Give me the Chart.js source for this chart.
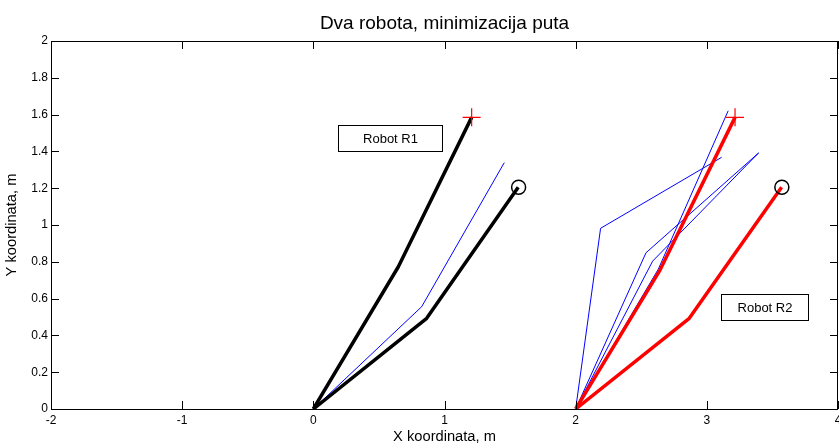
<!DOCTYPE html>
<html>
<head>
<meta charset="utf-8">
<script src="https://cdn.jsdelivr.net/npm/chart.js@4.4.1/dist/chart.umd.min.js"></script>
<style>
  html, body { margin: 0; padding: 0; background: #fff; }
  canvas { display: block; }
</style>
</head>
<body>
<canvas id="myChart" width="839" height="443"></canvas>
<script>
// tick labels
var xTicks = [-2, -1, 0, 1, 2, 3, 4];
var yTicks = [0, 0.2, 0.4, 0.6, 0.8, 1, 1.2, 1.4, 1.6, 1.8, 2];

// robot R1 (base at 0,0): two final arm poses and one trial pose
var r1ArmA = [{x: 0, y: 0}, {x: 0.648, y: 0.773}, {x: 1.207, y: 1.585}];
var r1ArmB = [{x: 0, y: 0}, {x: 0.864, y: 0.493}, {x: 1.562, y: 1.205}];
var r1Trial = [{x: 0, y: 0}, {x: 0.826, y: 0.556}, {x: 1.456, y: 1.339}];

// robot R2 (base at 2,0)
var r2ArmA = [{x: 2, y: 0}, {x: 2.643, y: 0.755}, {x: 3.215, y: 1.585}];
var r2ArmB = [{x: 2, y: 0}, {x: 2.866, y: 0.493}, {x: 3.570, y: 1.205}];
var r2TrialA = [{x: 2, y: 0}, {x: 2.190, y: 0.982}, {x: 3.113, y: 1.368}];
var r2TrialB = [{x: 2, y: 0}, {x: 2.536, y: 0.849}, {x: 3.397, y: 1.393}];
var r2TrialC = [{x: 2, y: 0}, {x: 2.587, y: 0.804}, {x: 3.392, y: 1.390}];
var r2TrialD = [{x: 2, y: 0}, {x: 2.630, y: 0.760}, {x: 3.163, y: 1.621}];

// markers
var goalPoints = [{x: 1.207, y: 1.585}, {x: 3.215, y: 1.585}];
var startPoints = [{x: 1.565, y: 1.205}, {x: 3.572, y: 1.205}];

// text boxes (data coordinates of box corners)
var notes = [
    {text: 'Robot R1', x1: 0.191, x2: 0.979, y1: 1.543, y2: 1.402},
    {text: 'Robot R2', x1: 3.105, x2: 3.773, y1: 0.625, y2: 0.484}
];

var titleText = 'Dva robota, minimizacija puta';
var xTitle = 'X koordinata, m';
var yTitle = 'Y koordinata, m';

var FONT = '"Liberation Sans", Arial, Helvetica, sans-serif';

function arm(points, color, width) {
    return {
        data: points,
        showLine: true,
        borderColor: color,
        borderWidth: width,
        borderJoinStyle: 'round',
        pointRadius: 0,
        pointHoverRadius: 0,
        tension: 0
    };
}

// frame, inward ticks, labels and text boxes, MATLAB style
var framePlugin = {
    id: 'frame',
    afterDatasetsDraw: function(chart) {
        var ctx = chart.ctx;
        var a = chart.chartArea;
        var xs = chart.scales.x, ys = chart.scales.y;
        var len = 8;
        ctx.save();
        ctx.strokeStyle = '#000';
        ctx.lineWidth = 1;
        ctx.beginPath();
        xTicks.forEach(function(v) {
            var px = Math.round(xs.getPixelForValue(v)) + 0.5;
            ctx.moveTo(px, a.bottom); ctx.lineTo(px, a.bottom - len);
            ctx.moveTo(px, a.top); ctx.lineTo(px, a.top + len);
        });
        yTicks.forEach(function(v) {
            var py = Math.round(ys.getPixelForValue(v)) + 0.5;
            ctx.moveTo(a.left, py); ctx.lineTo(a.left + len, py);
            ctx.moveTo(a.right, py); ctx.lineTo(a.right - len, py);
        });
        ctx.stroke();
        ctx.strokeRect(a.left + 0.5, a.top + 0.5, a.right - a.left - 1, a.bottom - a.top);

        // tick labels
        ctx.fillStyle = '#000';
        ctx.font = '12px ' + FONT;
        ctx.textAlign = 'center';
        ctx.textBaseline = 'middle';
        xTicks.forEach(function(v) {
            ctx.fillText(String(v), xs.getPixelForValue(v), a.bottom + 12);
        });
        ctx.textAlign = 'right';
        yTicks.forEach(function(v) {
            ctx.fillText(String(v), a.left - 3, ys.getPixelForValue(v));
        });

        // titles
        var cx = (a.left + a.right) / 2;
        ctx.textAlign = 'center';
        ctx.font = '19px ' + FONT;
        ctx.fillText(titleText, cx, 24);
        ctx.font = '14.7px ' + FONT;
        ctx.fillText(xTitle, cx, 437);
        ctx.save();
        ctx.translate(12, (a.top + a.bottom) / 2);
        ctx.rotate(-Math.PI / 2);
        ctx.fillText(yTitle, 0, 0);
        ctx.restore();

        notes.forEach(function(n) {
            var l = Math.round(xs.getPixelForValue(n.x1)) + 0.5;
            var r = Math.round(xs.getPixelForValue(n.x2)) + 0.5;
            var t = Math.round(ys.getPixelForValue(n.y1)) + 0.5;
            var b = Math.round(ys.getPixelForValue(n.y2)) + 0.5;
            ctx.fillStyle = '#fff';
            ctx.fillRect(l, t, r - l, b - t);
            ctx.strokeRect(l, t, r - l, b - t);
            ctx.fillStyle = '#000';
            ctx.font = '13px ' + FONT;
            ctx.textAlign = 'center';
            ctx.textBaseline = 'middle';
            ctx.fillText(n.text, (l + r) / 2, (t + b) / 2 + 1);
        });
        ctx.restore();
    }
};

var ctx = document.getElementById('myChart').getContext('2d');
var chart = new Chart(ctx, {
    type: 'scatter',
    data: {
        // first dataset is drawn on top
        datasets: [
            {data: goalPoints, pointStyle: 'cross', pointRadius: 9, pointBorderWidth: 1.2,
             borderColor: '#ff0000', pointBorderColor: '#ff0000', showLine: false},
            {data: startPoints, pointStyle: 'circle', pointRadius: 7, pointBorderWidth: 1.5,
             borderColor: '#000', pointBorderColor: '#000', pointBackgroundColor: 'rgba(0,0,0,0)', showLine: false},
            arm(r2ArmA, '#ff0000', 3.5),
            arm(r2ArmB, '#ff0000', 3.5),
            arm(r1ArmA, '#000000', 3.5),
            arm(r1ArmB, '#000000', 3.5),
            arm(r1Trial, '#0000ff', 1),
            arm(r2TrialA, '#0000ff', 1),
            arm(r2TrialB, '#0000ff', 1),
            arm(r2TrialC, '#0000ff', 1),
            arm(r2TrialD, '#0000ff', 1)
        ]
    },
    options: {
        responsive: false,
        animation: false,
        events: [],
        layout: {autoPadding: false, padding: {left: 51, right: 1, top: 41, bottom: 34}},
        plugins: {
            legend: {display: false},
            tooltip: {enabled: false},
            title: {display: false}
        },
        scales: {
            x: {
                type: 'linear',
                min: -2, max: 4,
                ticks: {display: false},
                grid: {display: false, drawTicks: false},
                border: {display: false}
            },
            y: {
                type: 'linear',
                min: 0, max: 2,
                ticks: {display: false},
                grid: {display: false, drawTicks: false},
                border: {display: false}
            }
        }
    },
    plugins: [framePlugin]
});
</script>
</body>
</html>
